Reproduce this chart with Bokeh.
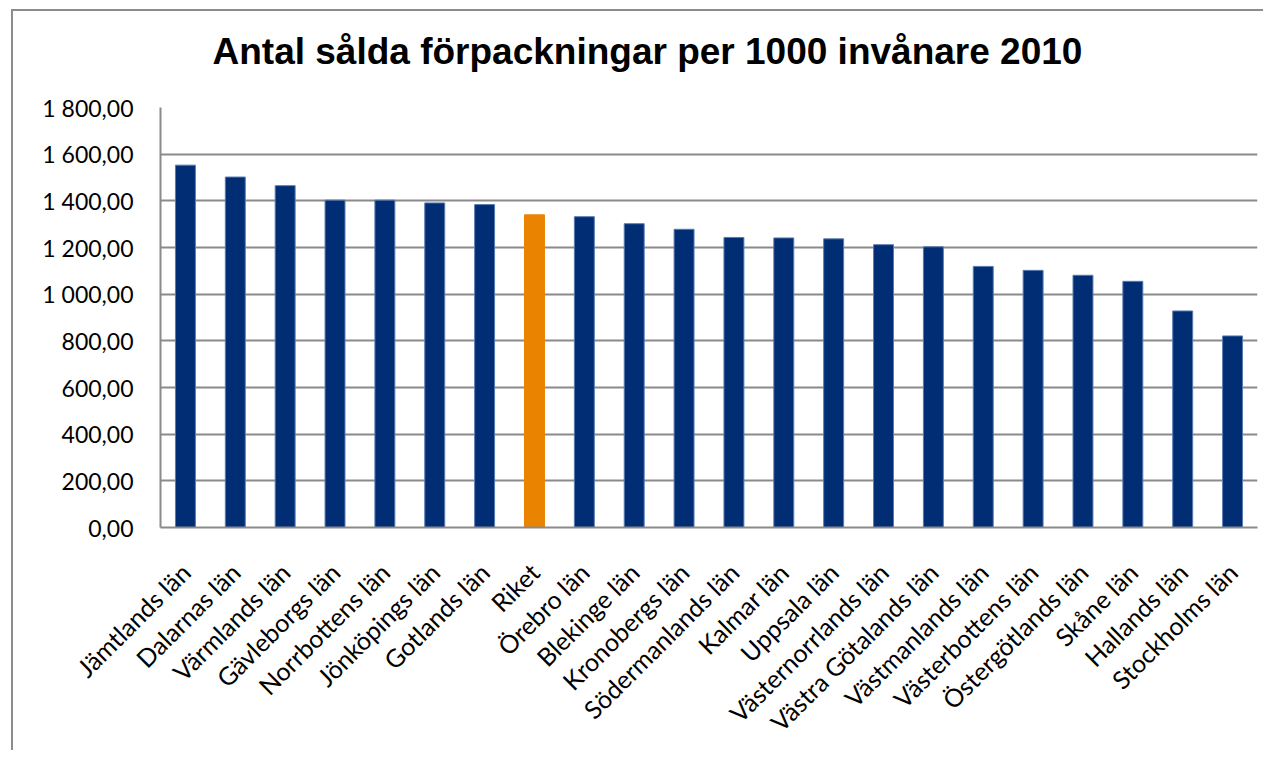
from bokeh.plotting import figure
from bokeh.models import FactorRange, Range1d, FixedTicker, ColumnDataSource
from bokeh.embed import file_html
from bokeh.resources import INLINE
import math

categories = ["Jämtlands län", "Dalarnas län", "Värmlands län", "Gävleborgs län",
              "Norrbottens län", "Jönköpings län", "Gotlands län", "Riket",
              "Örebro län", "Blekinge län", "Kronobergs län", "Södermanlands län",
              "Kalmar län", "Uppsala län", "Västernorrlands län", "Västra Götalands län",
              "Västmanlands län", "Västerbottens län", "Östergötlands län", "Skåne län",
              "Hallands län", "Stockholms län"]
values = [1553, 1502, 1465, 1403, 1403, 1391, 1384, 1340, 1332, 1302, 1278, 1243,
          1241, 1237, 1212, 1203, 1119, 1102, 1081, 1055, 928, 821]
highlight = "Riket"
y_ticks = [0, 200, 400, 600, 800, 1000, 1200, 1400, 1600, 1800]
title_text = "Antal sålda förpackningar per 1000 invånare 2010"

NAVY = "#002D74"
ORANGE = "#E98300"
BORDER = "#8c8c8c"
fills = [ORANGE if c == highlight else NAVY for c in categories]
lines = [ORANGE if c == highlight else "#5a7bb0" for c in categories]
source = ColumnDataSource(dict(cat=categories, val=values, fill=fills, line=lines))

p = figure(x_range=FactorRange(*categories), y_range=Range1d(0, 1800),
           width=1263, height=759, output_backend="svg", toolbar_location=None,
           min_border_left=160, min_border_right=6, min_border_top=116,
           min_border_bottom=221, title=title_text)
# chart-area border (left and top edges visible), drawn behind a transparent canvas
p.styles = {
    "margin-top": "-9px",
    "background": (f"linear-gradient({BORDER}, {BORDER}) 11px 18px / 2px calc(100% - 18px) no-repeat, "
                   f"linear-gradient({BORDER}, {BORDER}) 11px 18px / calc(100% - 11px) 2px no-repeat, "
                   "#ffffff"),
}

p.vbar(x="cat", top="val", width=0.4, source=source, fill_color="fill",
       line_color="line", line_width=1)

p.title.text_font = "Liberation Sans"
p.title.text_font_size = "37px"
p.title.text_font_style = "bold"
p.title.text_color = "#000000"
p.title.align = "left"
p.title.offset = 52
p.title.standoff = 72

p.outline_line_color = None
p.background_fill_color = "white"
p.border_fill_color = None

p.xgrid.grid_line_color = None
p.ygrid.grid_line_color = "#8a8a8a"
p.ygrid.grid_line_width = 2
p.yaxis.ticker = FixedTicker(ticks=y_ticks)
p.yaxis.major_label_overrides = {
    t: f"{t:,.2f}".replace(",", " ").replace(".", ",") for t in y_ticks}

for ax in (p.xaxis[0], p.yaxis[0]):
    ax.axis_line_color = "#8a8a8a"
    ax.axis_line_width = 2
    ax.major_tick_line_color = None
    ax.minor_tick_line_color = None
    ax.major_tick_out = 0
    ax.major_tick_in = 0
    ax.major_label_text_font = "Lato"
    ax.major_label_text_color = "#000000"

p.yaxis.major_label_text_font_size = "23px"
p.xaxis.major_label_text_font_size = "25px"
p.yaxis.major_label_standoff = 27
p.xaxis.major_label_standoff = 40
p.xaxis.major_label_orientation = math.pi / 4

open("out.html", "w").write(file_html(p, INLINE))
